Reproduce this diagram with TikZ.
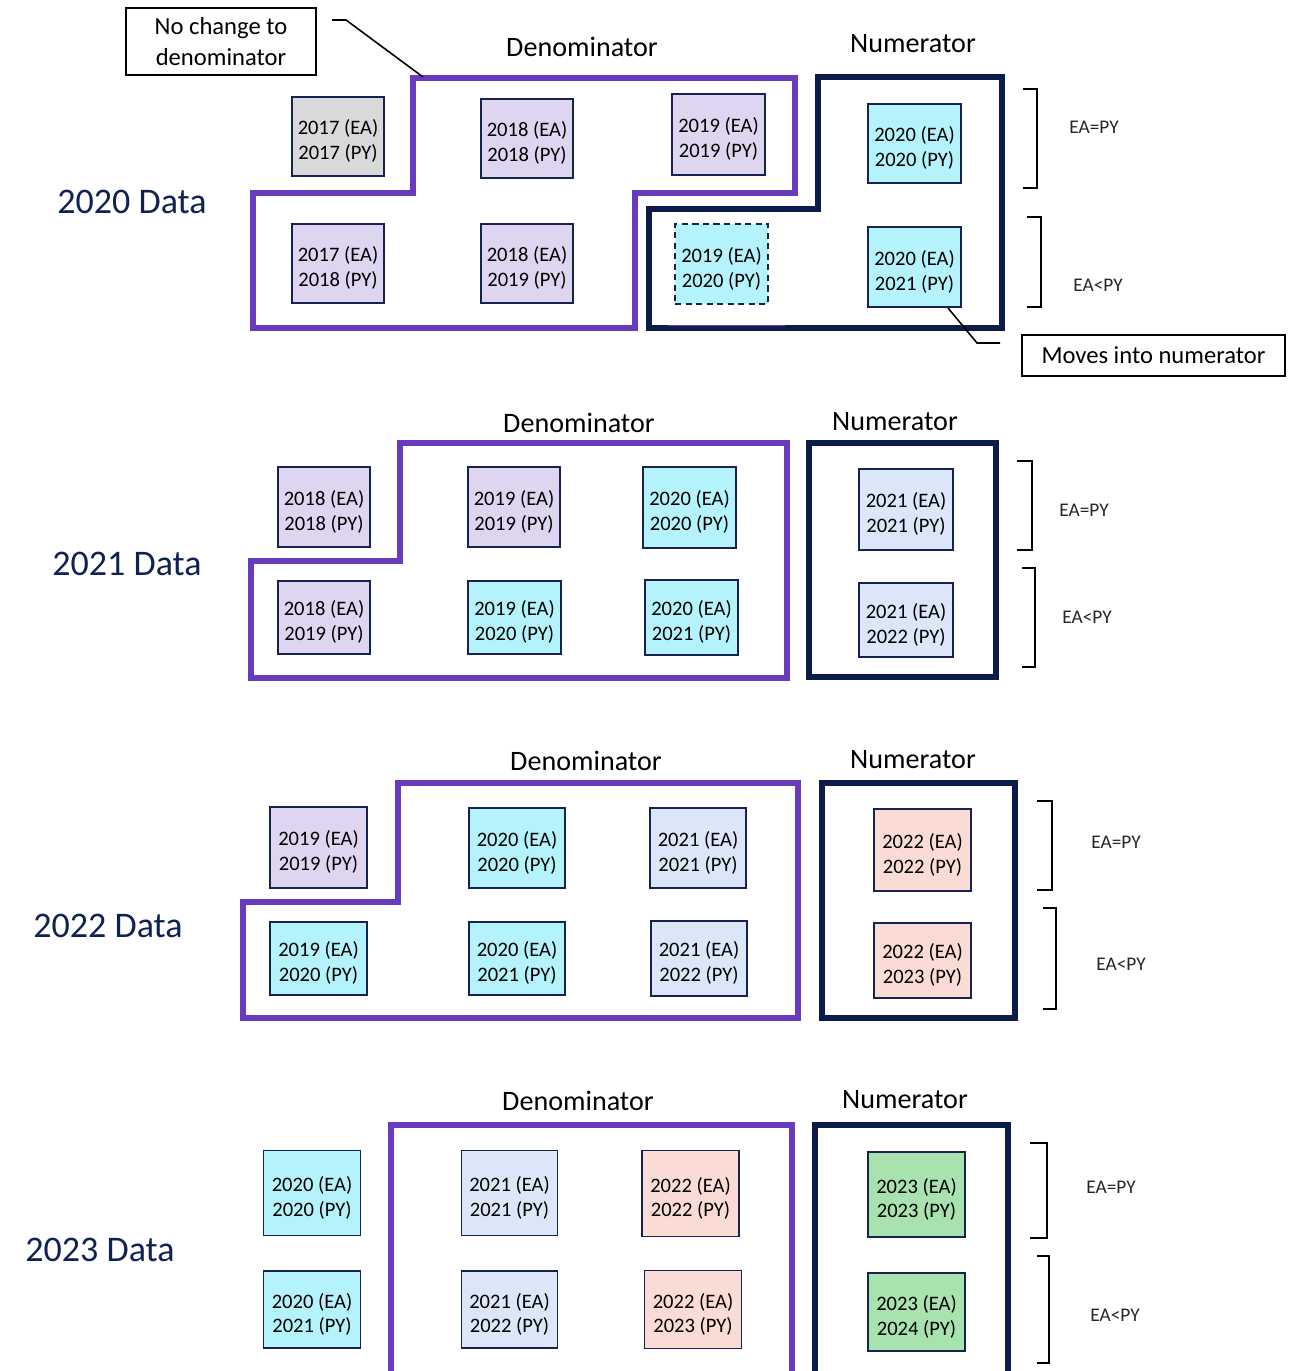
\documentclass[tikz,border=0pt]{standalone}
\usepackage{fontspec}
\setmainfont{Carlito}
\definecolor{denom}{RGB}{104,58,190}
\definecolor{numer}{RGB}{12,28,74}
\definecolor{cellline}{RGB}{22,34,82}
\definecolor{lav}{RGB}{222,214,240}
\definecolor{greycell}{RGB}{217,217,217}
\definecolor{cyancell}{RGB}{180,243,251}
\definecolor{palecell}{RGB}{219,231,248}
\definecolor{pinkcell}{RGB}{251,219,214}
\definecolor{mintcell}{RGB}{168,226,174}
\definecolor{datatxt}{RGB}{16,34,84}
\tikzset{
  cell/.style={rectangle,draw=cellline,line width=0.9pt,align=center,inner sep=1pt,
    text height=28.3pt,font=\fontsize{11.7}{14.2}\selectfont},
  sz/.style 2 args={minimum width=#1*0.02cm,minimum height=#2*0.02cm},
  denbox/.style={draw=denom,line width=2.9pt,line join=miter},
  numbox/.style={draw=numer,line width=2.9pt,line join=miter},
  head/.style={font=\fontsize{16}{19}\selectfont},
  datalbl/.style={font=\fontsize{20.5}{24}\selectfont,text=datatxt},
  brk/.style={draw,line width=1.1pt},
  cond/.style={font=\fontsize{11}{13}\selectfont,text=black!85},
  callout/.style={draw,line width=1pt,align=center,inner sep=0pt,
    font=\fontsize{14}{17.5}\selectfont}
}

\begin{document}
\begin{tikzpicture}[x=0.02cm,y=-0.02cm]
  \useasboundingbox (0,0) rectangle (1294,1371);

  % ---------------- 2020 Data ----------------
  \node[head] (den1) at (582,47) {Denominator};
  \node[head] (num1) at (913,44) {Numerator};
  \node[datalbl] (data1) at (132,202) {2020 Data};

  % -- denominator outline (stepped) --
  \draw[denbox] (413,78) -- (795,78) -- (795,193) -- (635,193) -- (635,328)
    -- (253,328) -- (253,193) -- (413,193) -- cycle;
  % -- numerator outline (stepped) --
  \draw[numbox] (818,77) -- (1002,77) -- (1002,328) -- (649,328) -- (649,209)
    -- (818,209) -- cycle;
  \draw[draw=denom,line width=1pt] (668,325.5) -- (785,325.5);

  \node[cell,sz={92}{79},fill=greycell] (a1) at (338,136.5) {2017 (EA)\\2017 (PY)};
  \node[cell,sz={92}{79},fill=lav] (b1) at (527,138.5) {2018 (EA)\\2018 (PY)};
  \node[cell,sz={93}{81},fill=lav] (c1) at (718.5,134.5) {2019 (EA)\\2019 (PY)};
  \node[cell,sz={92}{79},fill=lav] (d1) at (338,263.5) {2017 (EA)\\2018 (PY)};
  \node[cell,sz={92}{79},fill=lav] (e1) at (527,263.5) {2018 (EA)\\2019 (PY)};
  \node[cell,sz={93}{80},fill=cyancell,dashed,dash pattern=on 3.5pt off 2.5pt] (f1) at (721.5,264) {2019 (EA)\\2020 (PY)};
  \node[cell,sz={93}{79},fill=cyancell] (g1) at (914.5,143.5) {2020 (EA)\\2020 (PY)};
  \node[cell,sz={93}{80},fill=cyancell] (h1) at (914.5,267) {2020 (EA)\\2021 (PY)};

  % -- brackets --
  \draw[brk] (1023,89) -- (1037,89) -- (1037,188) -- (1023,188);
  \draw[brk] (1027,217) -- (1041,217) -- (1041,307) -- (1027,307);
  \node[cond] (eq1) at (1094,127) {EA=PY};
  \node[cond] (lt1) at (1098,285) {EA<PY};

  % -- callouts --
  \node[callout,minimum width=3.8cm,minimum height=1.34cm] (nochg) at (221,41.5) {No change to\\denominator};
  \node[callout,minimum width=5.26cm,minimum height=0.82cm] (moves) at (1153.5,355.5) {Moves into numerator};
  \coordinate (nochgtip) at (332,20);
  \coordinate (dencorner) at (423,77);
  \coordinate (movestip) at (948,308);
  \coordinate (movesend) at (1000,343);
  \draw[line width=0.9pt] (nochgtip) -- (346,20) -- (dencorner);
  \draw[line width=0.9pt] (movestip) -- (977,343) -- (movesend);

  % ---------------- 2021 Data ----------------
  \node[head] (den2) at (579,423) {Denominator};
  \node[head] (num2) at (895,422) {Numerator};
  \node[datalbl] (data2) at (127,564) {2021 Data};

  \draw[denbox] (400,443) -- (787,443) -- (787,678) -- (251,678) -- (251,561)
    -- (400,561) -- cycle;
  \draw[numbox] (809,443) rectangle (996,677);

  \node[cell,sz={92}{80},fill=lav] (a2) at (324,507) {2018 (EA)\\2018 (PY)};
  \node[cell,sz={92}{80},fill=lav] (b2) at (514,507) {2019 (EA)\\2019 (PY)};
  \node[cell,sz={93}{81},fill=cyancell] (c2) at (689.5,507.5) {2020 (EA)\\2020 (PY)};
  \node[cell,sz={92}{73},fill=lav] (d2) at (324,617.5) {2018 (EA)\\2019 (PY)};
  \node[cell,sz={93}{73},fill=cyancell] (e2) at (514.5,617.5) {2019 (EA)\\2020 (PY)};
  \node[cell,sz={93}{75},fill=cyancell] (f2) at (691.5,617.5) {2020 (EA)\\2021 (PY)};
  \node[cell,sz={94}{81},fill=palecell] (g2) at (906,509.5) {2021 (EA)\\2021 (PY)};
  \node[cell,sz={94}{74},fill=palecell] (h2) at (906,620) {2021 (EA)\\2022 (PY)};

  \draw[brk] (1017,461) -- (1032,461) -- (1032,550) -- (1017,550);
  \draw[brk] (1022,568) -- (1035,568) -- (1035,667) -- (1022,667);
  \node[cond] (eq2) at (1084,510) {EA=PY};
  \node[cond] (lt2) at (1087,617) {EA<PY};

  % ---------------- 2022 Data ----------------
  \node[head] (den3) at (586,761) {Denominator};
  \node[head] (num3) at (913,760) {Numerator};
  \node[datalbl] (data3) at (108,926) {2022 Data};

  \draw[denbox] (398,783) -- (798,783) -- (798,1018) -- (243,1018) -- (243,902)
    -- (398,902) -- cycle;
  \draw[numbox] (822,783) rectangle (1015,1018);

  \node[cell,sz={97}{81},fill=lav] (a3) at (318.5,847.5) {2019 (EA)\\2019 (PY)};
  \node[cell,sz={96}{80},fill=cyancell] (b3) at (517,848) {2020 (EA)\\2020 (PY)};
  \node[cell,sz={96}{80},fill=palecell] (c3) at (698,848) {2021 (EA)\\2021 (PY)};
  \node[cell,sz={97}{73},fill=cyancell] (d3) at (318.5,958.5) {2019 (EA)\\2020 (PY)};
  \node[cell,sz={96}{73},fill=cyancell] (e3) at (517,958.5) {2020 (EA)\\2021 (PY)};
  \node[cell,sz={96}{75},fill=palecell] (f3) at (699,958.5) {2021 (EA)\\2022 (PY)};
  \node[cell,sz={97}{82},fill=pinkcell] (g3) at (922.5,850) {2022 (EA)\\2022 (PY)};
  \node[cell,sz={97}{75},fill=pinkcell] (h3) at (922.5,960.5) {2022 (EA)\\2023 (PY)};

  \draw[brk] (1037,801) -- (1052,801) -- (1052,890) -- (1037,890);
  \draw[brk] (1043,908) -- (1056,908) -- (1056,1009) -- (1043,1009);
  \node[cond] (eq3) at (1116,842) {EA=PY};
  \node[cond] (lt3) at (1121,964) {EA<PY};

  % ---------------- 2023 Data ----------------
  \node[head] (den4) at (578,1101) {Denominator};
  \node[head] (num4) at (905,1100) {Numerator};
  \node[datalbl] (data4) at (100,1250) {2023 Data};

  % -- both outlines run off the bottom edge --
  \draw[denbox] (391,1380) -- (391,1125) -- (792,1125) -- (792,1380);
  \draw[numbox] (815,1380) -- (815,1125) -- (1008,1125) -- (1008,1380);

  \node[cell,sz={97}{85},fill=cyancell] (a4) at (312,1193) {2020 (EA)\\2020 (PY)};
  \node[cell,sz={97}{77},fill=cyancell] (d4) at (312,1309.5) {2020 (EA)\\2021 (PY)};
  \node[cell,sz={96}{85},fill=palecell] (b4) at (509.5,1193) {2021 (EA)\\2021 (PY)};
  \node[cell,sz={96}{77},fill=palecell] (e4) at (509.5,1309.5) {2021 (EA)\\2022 (PY)};
  \node[cell,sz={97}{86},fill=pinkcell] (c4) at (690.5,1193.5) {2022 (EA)\\2022 (PY)};
  \node[cell,sz={97}{78},fill=pinkcell] (f4) at (693,1309.5) {2022 (EA)\\2023 (PY)};
  \node[cell,sz={97}{85},fill=mintcell] (g4) at (916.5,1194.5) {2023 (EA)\\2023 (PY)};
  \node[cell,sz={97}{78},fill=mintcell] (h4) at (916.5,1312) {2023 (EA)\\2024 (PY)};

  \draw[brk] (1030,1143) -- (1047,1143) -- (1047,1238) -- (1030,1238);
  \draw[brk] (1037,1256) -- (1049,1256) -- (1049,1363) -- (1037,1363);
  \node[cond] (eq4) at (1111,1187) {EA=PY};
  \node[cond] (lt4) at (1115,1315) {EA<PY};

\end{tikzpicture}
\end{document}
